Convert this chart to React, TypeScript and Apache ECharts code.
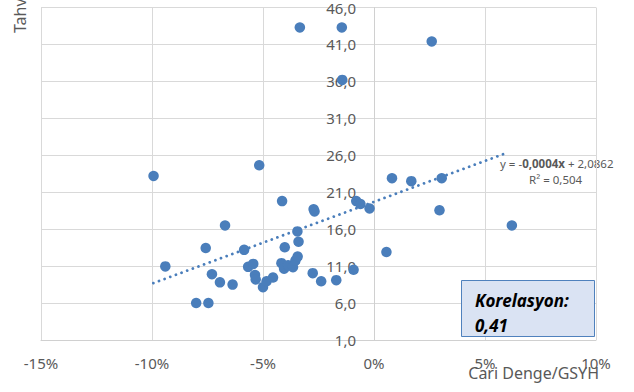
import React, { useEffect, useRef } from "react";
import * as echarts from "echarts";

// Cari Denge/GSYH (%)
const currentAccount = [
  -9.93, -5.17, -4.14, -6.71, -3.45, -3.4, -7.58, -5.85, -4.02, -9.4,
  -7.3, -6.94, -6.37, -5.67, -5.44, -5.36, -5.33, -5.0, -4.84, -4.55,
  -4.17, -4.05, -3.87, -3.65, -3.54, -3.44, -8.01, -7.46, -2.76, -2.72,
  -2.68, -2.38, -1.7, -0.92, -0.8, -0.61, -0.2, 0.81, 1.68, 3.05,
  2.95, 0.56, 6.21, -3.34, -1.45, -1.43, 2.6,
];
// Tahvil faizi
const bondYield = [
  23.2, 24.65, 19.8, 16.5, 15.7, 14.3, 13.45, 13.2, 13.55, 10.96,
  9.9, 8.8, 8.5, 10.9, 11.3, 9.8, 9.2, 8.15, 8.95, 9.45,
  11.4, 10.65, 11.1, 10.85, 11.75, 12.3, 6.0, 6.0, 10.05, 18.7,
  18.4, 8.95, 9.1, 10.5, 19.8, 19.4, 18.8, 22.9, 22.5, 22.9,
  18.55, 12.9, 16.5, 43.3, 43.3, 36.2, 41.4,
];
// Trend line end points
const trendX = [-9.94, 6.05];
const trendY = [8.7, 26.4];

const xMin = -15;
const xMax = 10;
const xStep = 5;
const yMin = 1;
const yMax = 46;
const yStep = 5;

const equationText = ["y = -", "0,0004x", " + 2,0862"];
const r2Text = "R² = 0,504";
const corrLabel = "Korelasyon:";
const corrValue = "0,41";
const xTitle = "Cari Denge/GSYH";
const yTitle = "Tahvil Faizi (%)";

const FONT = "'Noto Sans', sans-serif";
const GREY = "#595959";
const BLUE = "#4a7ebb";

const GRID_LEFT = 41;
const GRID_RIGHT = 38;
const CHART_W = 634;

export default function App() {
  const ref = useRef<HTMLDivElement>(null);
  useEffect(() => {
    if (!ref.current) return;
    const chart = echarts.init(ref.current, undefined, { renderer: "svg" });
    const points = currentAccount.map((x, i) => [x, bondYield[i]]);
    const trend = trendX.map((x, i) => [x, trendY[i]]);
    const plotW = CHART_W - GRID_LEFT - GRID_RIGHT;
    const zeroOffset = -plotW * ((0 - xMin) / (xMax - xMin));
    chart.setOption({
      animation: false,
      backgroundColor: "#ffffff",
      textStyle: { fontFamily: FONT },
      grid: { left: GRID_LEFT, right: GRID_RIGHT, top: 4, bottom: 52 },
      xAxis: {
        type: "value",
        min: xMin,
        max: xMax,
        interval: xStep,
        axisLine: { onZero: false, lineStyle: { color: "#d0d0d0", width: 1 } },
        axisTick: { show: false },
        axisLabel: {
          color: GREY,
          fontSize: 15,
          fontFamily: FONT,
          margin: 15,
          formatter: (v: number) => `${v}%`,
        },
        splitLine: { show: true, lineStyle: { color: "#d9d9d9", width: 1 } },
      },
      yAxis: {
        type: "value",
        min: yMin,
        max: yMax,
        interval: yStep,
        position: "left",
        offset: zeroOffset,
        axisLine: { show: true, onZero: false, lineStyle: { color: "#d0d0d0", width: 1 } },
        axisTick: { show: false },
        axisLabel: {
          color: GREY,
          fontSize: 15,
          fontFamily: FONT,
          margin: 18,
          formatter: (v: number) => v.toFixed(1).replace(".", ","),
        },
        splitLine: { show: true, lineStyle: { color: "#d9d9d9", width: 1 } },
      },
      series: [
        {
          type: "line",
          data: trend,
          symbol: "none",
          lineStyle: { color: BLUE, width: 2.8, type: [0.01, 6], cap: "round" },
          z: 1,
          silent: true,
        },
        {
          type: "scatter",
          data: points,
          symbolSize: 10.5,
          itemStyle: { color: BLUE, opacity: 1 },
          z: 3,
        },
      ],
      graphic: [
        {
          type: "text",
          x: 20,
          y: 33,
          rotation: Math.PI / 2,
          style: {
            text: yTitle,
            fill: GREY,
            font: `16px ${FONT}`,
            textAlign: "left",
            textVerticalAlign: "middle",
          },
        },
        {
          type: "text",
          right: 35,
          top: 365,
          style: {
            text: xTitle,
            fill: GREY,
            font: `16px ${FONT}`,
          },
        },
        {
          type: "text",
          x: 500,
          y: 163,
          style: {
            text: `{n|${equationText[0]}}{b|${equationText[1]}}{n|${equationText[2]}}`,
            textVerticalAlign: "middle",
            rich: {
              n: { fontSize: 11.5, fontFamily: FONT, fill: GREY, color: GREY },
              b: { fontSize: 11.5, fontFamily: FONT, fontWeight: "bold", fill: GREY, color: GREY },
            },
          },
        },
        {
          type: "text",
          x: 529,
          y: 179,
          style: {
            text: r2Text,
            fill: GREY,
            font: `11.5px ${FONT}`,
            textVerticalAlign: "middle",
          },
        },
        {
          type: "rect",
          shape: { x: 461.5, y: 280.5, width: 133, height: 56 },
          style: { fill: "#dae3f3", stroke: "#4f81bd", lineWidth: 1 },
          z: 10,
        },
        {
          type: "text",
          x: 475,
          y: 300,
          z: 11,
          style: {
            text: corrLabel,
            fill: "#000000",
            font: `italic bold 17px ${FONT}`,
            textVerticalAlign: "middle",
          },
        },
        {
          type: "text",
          x: 475,
          y: 325,
          z: 11,
          style: {
            text: corrValue,
            fill: "#000000",
            font: `italic bold 17px ${FONT}`,
            textVerticalAlign: "middle",
          },
        },
      ],
    });
    return () => chart.dispose();
  }, []);
  return (
    <div
      ref={ref}
      style={{ position: "fixed", left: 0, top: 0, width: 634, height: 392 }}
    />
  );
}
